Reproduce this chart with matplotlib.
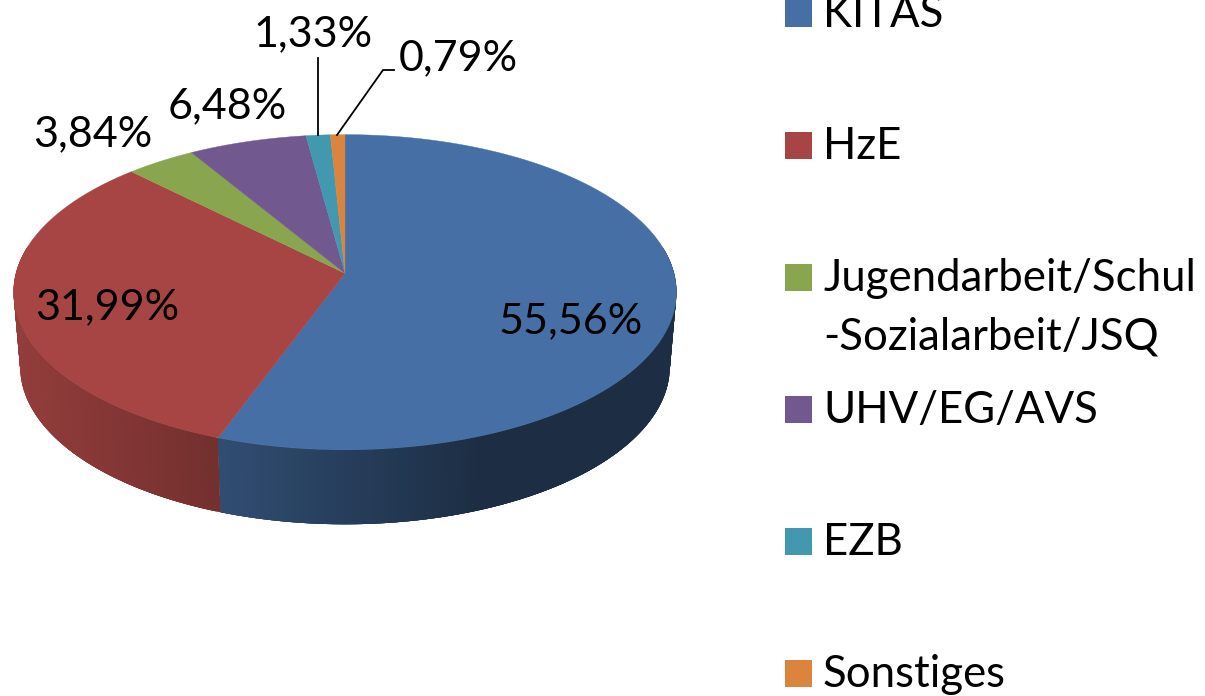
import numpy as np
import matplotlib
matplotlib.use("Agg")
import matplotlib.pyplot as plt
from matplotlib.colors import to_rgb
from matplotlib.patches import Rectangle

categories = ["KITAS", "HzE", "Jugendarbeit/Schul\n-Sozialarbeit/JSQ", "UHV/EG/AVS", "EZB", "Sonstiges"]
values = [55.56, 31.99, 3.84, 6.48, 1.33, 0.79]
value_labels = ["55,56%", "31,99%", "3,84%", "6,48%", "1,33%", "0,79%"]
colors = ["#4670A5", "#A64543", "#89A54E", "#71588F", "#4198AF", "#DB843D"]

# label anchors (centre x, baseline y, in pixels)
label_pos = [(570.5, 333), (107, 319), (92.5, 146), (227, 118), (313, 46), (458, 70)]
legend_base = [27, 159, 291, 423, 555, 687]

FONT = "Lato"
FS_VALUE = 31
FS_LEGEND = 31.5

W, H = 1205, 696
fig = plt.figure(figsize=(W / 100, H / 100), dpi=100, facecolor="white")
ax = fig.add_axes([0, 0, 1, 1])
ax.set_xlim(0, W)
ax.set_ylim(H, 0)
ax.axis("off")

# perspective disc geometry
APEX_X, APEX_Y = 345.0, 273.3
A, B, K = 329.0, 155.3, 0.12
DEPTH, BOTTOM_SCALE = 74.5, 0.98


def project(theta):
    """theta: clockwise from top, radians."""
    u, v = np.sin(theta), np.cos(theta)
    d = 1 + K * v
    return APEX_X + A * u / d, APEX_Y - B * v / d


def wall_point(theta):
    x, y = project(theta)
    return APEX_X + BOTTOM_SCALE * (x - APEX_X), y + DEPTH


def shade(x):
    return np.interp(x, [20, 219, 480], [0.88, 0.69, 0.41])


total = sum(values)
edges = np.concatenate([[0], np.cumsum(values)]) / total * 2 * np.pi

# side walls: only the front part of the disc; each strip overlaps the next one,
# painted in order, so no background shows through the antialiased seams
FRONT_START, FRONT_END = np.radians(80), np.radians(280)
for i, col in enumerate(colors):
    lo, hi = max(edges[i], FRONT_START), min(edges[i + 1], FRONT_END)
    if hi <= lo:
        continue
    th = np.linspace(lo, hi, max(int((hi - lo) * 150), 2))
    x0, y0 = project(th)
    x1, y1 = wall_point(th)
    base = np.array(to_rgb(col))
    for j in range(len(th) - 1):
        e = min(j + 4, len(th) - 1)
        c = tuple(base * shade((x0[j] + x0[j + 1]) / 2))
        ax.fill(np.r_[x0[j:e + 1], x1[j:e + 1][::-1]], np.r_[y0[j:e + 1], y1[j:e + 1][::-1]],
                facecolor=c, edgecolor="none", zorder=1 + i * 0.01)

# top faces
for i, col in enumerate(colors):
    th = np.linspace(edges[i], edges[i + 1], max(int((edges[i + 1] - edges[i]) * 150), 6))
    x, y = project(th)
    ax.fill(np.r_[APEX_X, x], np.r_[APEX_Y, y], color=col, lw=0.3, zorder=2)

# value labels
for txt, (px, py) in zip(value_labels, label_pos):
    ax.text(px, py, txt, family=FONT, fontsize=FS_VALUE, ha="center", va="baseline", color="black", zorder=5)

# leader lines
ax.plot([318, 318], [58, 135], color="black", lw=1.3, zorder=4)
ax.plot([394, 383, 337], [70, 70, 135], color="black", lw=1.3, zorder=4)

# legend
for name, col, base in zip(categories, colors, legend_base):
    ax.add_patch(Rectangle((785, base - 27), 27, 27, facecolor=col, edgecolor="none"))
    lines = name.split("\n")
    for k, line in enumerate(lines):
        ax.text(823, base + k * 59, line, family=FONT, fontsize=FS_LEGEND, ha="left", va="baseline", color="black")

fig.savefig("out.png", dpi=100, facecolor="white")
